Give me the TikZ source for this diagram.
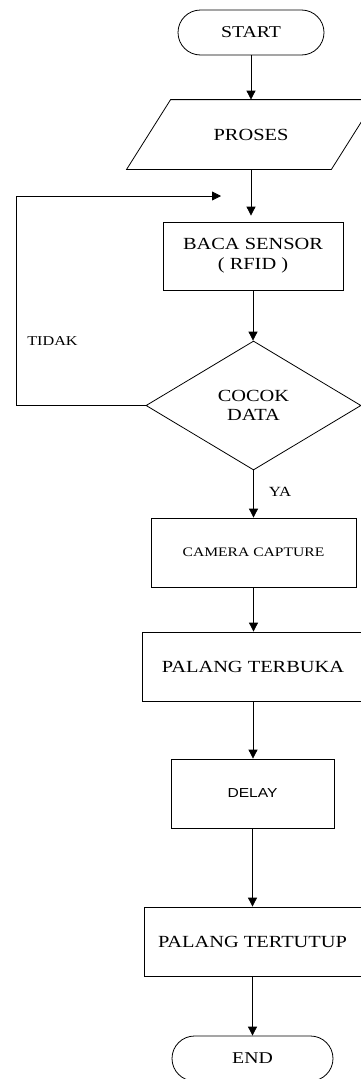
\documentclass[tikz,border=0pt]{standalone}
\usepackage{fontspec}
\setmainfont[FakeStretch=1.2]{Liberation Serif}
\newfontfamily\arialfont[FakeStretch=1.2]{Liberation Sans}
\usetikzlibrary{shapes.geometric,shapes.misc,arrows.meta}

\begin{document}
\begin{tikzpicture}[x=1pt,y=-1pt,
    line width=0.8pt,
    terminal/.style={rounded rectangle,draw,inner sep=0pt,font=\fontsize{16.5}{20}\selectfont},
    prosesbox/.style={rectangle,draw,inner sep=0pt,align=center},
    arrow/.style={-{Triangle[length=9pt,width=9pt]}}]
        \clip (0,0) rectangle (361,1079);
        \fill[white] (0,0) rectangle (361,1079);

        \node[terminal,minimum width=146pt,minimum height=45pt] (start) at (251,32.5) {START};
        \node[rectangle,inner sep=0pt,minimum width=204pt,minimum height=69pt,
              font=\fontsize{17}{20}\selectfont] (proses) at (251,134.5) {PROSES};
        \draw ([xshift=-22pt]proses.south west) -- ([xshift=-22pt]proses.south east)
              -- ([xshift=22pt]proses.north east) -- ([xshift=22pt]proses.north west) -- cycle;
        \node[prosesbox,minimum width=180pt,minimum height=68pt,font=\fontsize{17}{20}\selectfont]
              (baca) at (253,256) {BACA SENSOR\\( RFID )};
        \node[diamond,draw,minimum width=215pt,minimum height=129pt,inner sep=0pt,
              font=\fontsize{17}{19}\selectfont,align=center] (cocok) at (253.5,405.5) {COCOK\\DATA};
        \node[prosesbox,minimum width=205pt,minimum height=69pt,font=\fontsize{13}{16}\selectfont]
              (camera) at (253.5,552.5) {CAMERA CAPTURE};
        \node[prosesbox,minimum width=222pt,minimum height=69pt,font=\fontsize{17}{20}\selectfont]
              (terbuka) at (253,666.5) {PALANG TERBUKA};
        \node[prosesbox,minimum width=163pt,minimum height=69pt,font=\arialfont\fontsize{13}{16}\selectfont]
              (delay) at (252.5,793.5) {DELAY};
        \node[prosesbox,minimum width=217pt,minimum height=69pt,font=\fontsize{17}{20}\selectfont]
              (tertutup) at (252.5,941.5) {PALANG TERTUTUP};
        \node[terminal,minimum width=161pt,minimum height=45pt] (end) at (252.5,1058.5) {END};

        % label cabang
        \node[font=\fontsize{13.5}{16}\selectfont] (tidak) at (52.5,341) {TIDAK};
        \node[font=\fontsize{14}{16}\selectfont] (ya) at (280,491.5) {YA};

        \coordinate (kiri) at (16,196);
        \coordinate (loop) at (221,196);

        \draw[arrow] (start.south) -- (start.south |- proses.north);
        \draw[arrow,shorten >=6pt] (proses.south) -- (proses.south |- baca.north);
        \draw[arrow] (baca.south) -- (baca.south |- cocok.north);
        \draw[arrow] (cocok.south) -- (cocok.south |- camera.north);
        \draw[arrow] (camera.south) -- (camera.south |- terbuka.north);
        \draw[arrow] (terbuka.south) -- (terbuka.south |- delay.north);
        \draw[arrow] (delay.south) -- (delay.south |- tertutup.north);
        \draw[arrow] (tertutup.south) -- (tertutup.south |- end.north);
        \draw[arrow] (cocok.west) -| (kiri) -- (loop);
    \end{tikzpicture}
\end{document}
